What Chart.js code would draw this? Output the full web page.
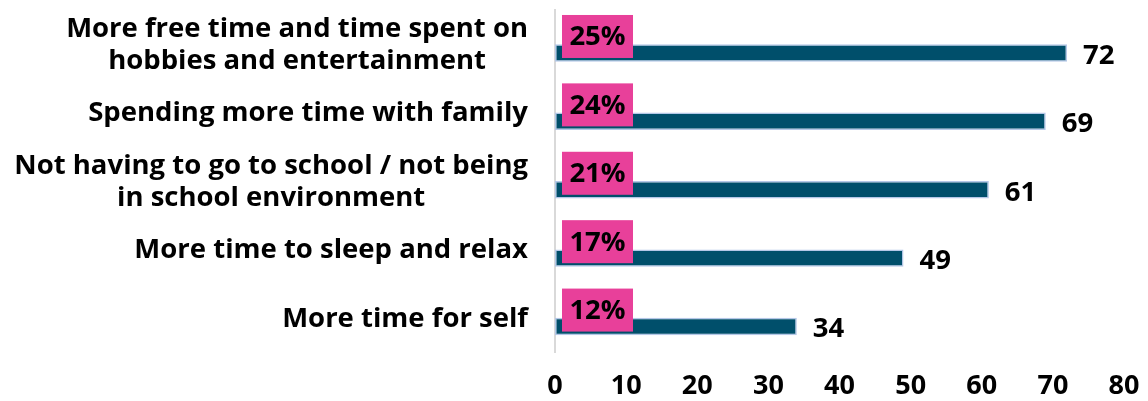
<!DOCTYPE html>
<html>
<head>
<meta charset="utf-8">
<script src="https://cdn.jsdelivr.net/npm/chart.js@4"></script>
<style>
  html, body { margin: 0; padding: 0; background: #fff; }
  #wrap { width: 1148px; height: 401px; }
</style>
</head>
<body>
<div id="wrap"><canvas id="chart"></canvas></div>
<script>
const categories = [
    ['More free time and time spent on', 'hobbies and entertainment'],
    'Spending more time with family',
    ['Not having to go to school / not being', 'in school environment'],
    'More time to sleep and relax',
    'More time for self'
];
const counts = [72, 69, 61, 49, 34];
const shares = [25, 24, 21, 17, 12]; // percent of respondents
const xTicks = [0, 10, 20, 30, 40, 50, 60, 70, 80];

const FONT = '"Open Sans", "DejaVu Sans", sans-serif';

// category names: block right-aligned to the axis, lines centred inside it
const categoryLabels = {
    id: 'categoryLabels',
    afterDraw(chart) {
        const ctx = chart.ctx;
        const yScale = chart.scales.y;
        const right = yScale.right - 27;
        const lineH = 32;
        ctx.save();
        ctx.font = 'bold 27.5px ' + FONT;
        ctx.fillStyle = '#000';
        ctx.textBaseline = 'middle';
        ctx.textAlign = 'center';
        categories.forEach((label, i) => {
            const lines = Array.isArray(label) ? label : [label];
            const blockW = Math.max(...lines.map(l => ctx.measureText(l).width));
            const cx = right - blockW / 2;
            const cy = yScale.getPixelForTick(i) + 1;
            lines.forEach((line, j) => {
                ctx.fillText(line, cx, cy + (j - (lines.length - 1) / 2) * lineH);
            });
        });
        ctx.restore();
    }
};

// pink percentage boxes on the share bars, plain numbers after the count bars
const barLabels = {
    id: 'barLabels',
    afterDatasetsDraw(chart) {
        const ctx = chart.ctx;
        const x0 = chart.scales.x.getPixelForValue(0);
        ctx.save();
        ctx.font = 'bold 27.5px ' + FONT;
        ctx.textBaseline = 'middle';

        chart.getDatasetMeta(1).data.forEach((bar, i) => {
            ctx.fillStyle = '#000';
            ctx.textAlign = 'left';
            ctx.fillText(String(counts[i]), bar.x + 16, bar.y + 3);
        });

        chart.getDatasetMeta(0).data.forEach((bar, i) => {
            const w = 71, h = 43;
            const left = x0 + 7;
            const top = bar.y - h / 2 + 1;
            ctx.fillStyle = '#e8409a';
            ctx.fillRect(left, top, w, h);
            ctx.fillStyle = '#000';
            ctx.textAlign = 'center';
            ctx.fillText(shares[i] + '%', left + w / 2, top + h / 2 + 1);
        });
        ctx.restore();
    }
};

new Chart(document.getElementById('chart'), {
    type: 'bar',
    data: {
        labels: categories,
        datasets: [{
            label: 'Share',
            data: shares,
            backgroundColor: 'rgba(0,0,0,0)',
            borderWidth: 0
        }, {
            label: 'Count',
            data: counts,
            backgroundColor: '#004f6b',
            borderColor: '#b4c7e7',
            borderWidth: 1.5,
            borderSkipped: false
        }]
    },
    options: {
        indexAxis: 'y',
        responsive: true,
        maintainAspectRatio: false,
        animation: false,
        categoryPercentage: 0.51,
        barPercentage: 1.0,
        layout: { padding: { top: 10, right: 24, left: 0, bottom: 0 } },
        plugins: {
            legend: { display: false },
            tooltip: { enabled: false }
        },
        scales: {
            x: {
                min: 0,
                max: 80,
                afterBuildTicks(axis) {
                    axis.ticks = xTicks.map(v => ({ value: v }));
                },
                afterFit(axis) {
                    axis.height = 49;
                    axis.paddingLeft = 0;
                    axis.paddingRight = 0;
                },
                grid: { display: false, drawTicks: false },
                border: { display: false },
                ticks: {
                    color: '#000',
                    padding: 18,
                    font: { family: FONT, size: 27, weight: 'bold' }
                }
            },
            y: {
                afterFit(axis) {
                    axis.width = 555;
                    axis.paddingTop = 0;
                    axis.paddingBottom = 0;
                },
                grid: { display: false, drawTicks: false },
                border: { display: true, color: '#d9d9d9', width: 2 },
                ticks: { display: false }
            }
        }
    },
    plugins: [barLabels, categoryLabels]
});
</script>
</body>
</html>
